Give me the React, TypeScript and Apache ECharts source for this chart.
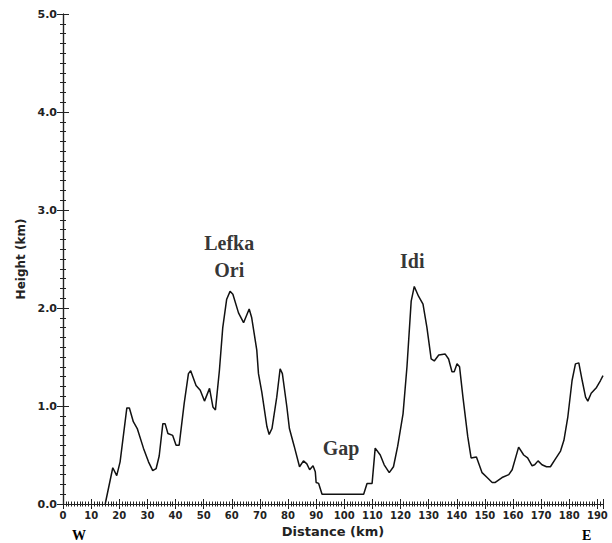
import React, { useEffect, useRef } from "react";
import * as echarts from "echarts";

const distanceKm = [
  15.0, 17.7, 19.1, 20.3, 22.7, 23.6, 25.0, 26.4, 28.6, 30.4, 31.9, 33.1, 34.2, 35.5, 36.3, 37.3,
  39.0, 40.2, 41.3, 43.1, 44.6, 45.4, 47.3, 48.8, 50.3, 52.1, 53.3, 54.2, 55.6, 56.8, 58.2, 59.4,
  60.4, 62.4, 64.2, 66.2, 67.1, 68.9, 69.5, 70.7, 72.5, 73.3, 74.3, 76.0, 77.2, 78.0, 79.6, 80.5,
  82.2, 84.1, 85.5, 86.7, 87.7, 88.9, 89.7, 90.0, 90.9, 92.1, 106.9, 108.1, 109.9, 111.0, 112.8,
  114.2, 116.0, 117.5, 119.0, 120.9, 122.3, 123.8, 124.9, 126.4, 128.0, 129.4, 130.9, 132.0, 133.6,
  135.9, 137.1, 138.3, 139.1, 140.1, 141.0, 142.2, 143.9, 145.1, 147.0, 149.0, 150.8, 152.6, 153.7,
  156.1, 158.5, 159.7, 162.0, 163.8, 165.2, 166.8, 167.7, 168.9, 170.3, 171.9, 173.3, 175.1, 176.9,
  178.1, 179.5, 181.0, 182.2, 183.4, 184.6, 185.8, 186.6, 187.8, 189.7, 191.1, 192.0,
];

const heightKm = [
  0.0, 0.37, 0.29, 0.43, 0.98, 0.98, 0.84, 0.77, 0.57, 0.43, 0.34, 0.36, 0.49, 0.82, 0.82, 0.72,
  0.70, 0.60, 0.60, 1.03, 1.33, 1.36, 1.21, 1.16, 1.05, 1.18, 0.99, 0.96, 1.36, 1.80, 2.09, 2.17,
  2.14, 1.95, 1.85, 1.99, 1.90, 1.57, 1.33, 1.14, 0.79, 0.71, 0.77, 1.09, 1.38, 1.33, 0.99, 0.77,
  0.59, 0.38, 0.44, 0.41, 0.35, 0.39, 0.33, 0.22, 0.21, 0.10, 0.10, 0.21, 0.21, 0.57, 0.50,
  0.40, 0.32, 0.38, 0.59, 0.92, 1.40, 2.07, 2.22, 2.12, 2.04, 1.80, 1.48, 1.46, 1.52,
  1.53, 1.48, 1.35, 1.35, 1.43, 1.40, 1.09, 0.69, 0.47, 0.48, 0.32, 0.27, 0.22, 0.22,
  0.27, 0.30, 0.35, 0.58, 0.50, 0.47, 0.39, 0.40, 0.44, 0.40, 0.38, 0.38, 0.46, 0.54,
  0.65, 0.89, 1.26, 1.43, 1.44, 1.26, 1.09, 1.05, 1.13, 1.19, 1.26, 1.31,
];

const annotationNames = ["Lefka\nOri", "Gap", "Idi"];
const annotationX = [59.1, 98.9, 124.2];
const annotationY = [2.53, 0.57, 2.48];

const xTitle = "Distance (km)";
const yTitle = "Height (km)";
const westLabel = "W";
const eastLabel = "E";

const X_MIN = 0;
const X_MAX = 192;
const Y_MIN = 0;
const Y_MAX = 5;

export default function App() {
  const ref = useRef<HTMLDivElement>(null);

  useEffect(() => {
    if (!ref.current) return;
    const chart = echarts.init(ref.current, undefined, { renderer: "svg" });
    const lineData = distanceKm.map((d, i) => [d, heightKm[i]]);
    const annData = annotationNames.map((n, i) => ({ name: n, value: [annotationX[i], annotationY[i]] }));

    const tickFont = { fontFamily: "DejaVu Sans", fontWeight: "bold" as const, color: "#222" };
    const axisLine = { show: true, lineStyle: { color: "#222", width: 1.2 } };

    const baseX = {
      type: "value" as const,
      min: X_MIN,
      max: X_MAX,
      interval: 10,
      axisLine,
      splitLine: { show: false },
      axisTick: { show: true, inside: true, length: 5, lineStyle: { color: "#222", width: 1 } },
      minorTick: { show: true, splitNumber: 10, length: 2.5, lineStyle: { color: "#222", width: 1 } },
    };
    const baseY = {
      type: "value" as const,
      min: Y_MIN,
      max: Y_MAX,
      interval: 1,
      axisLine,
      splitLine: { show: false },
      axisTick: { show: true, inside: true, length: 6, lineStyle: { color: "#222", width: 1 } },
      minorTick: { show: true, splitNumber: 10, length: 3, lineStyle: { color: "#222", width: 1 } },
    };

    chart.setOption({
      animation: false,
      backgroundColor: "#ffffff",
      grid: { left: 63, top: 14, right: 9, bottom: 35, containLabel: false },
      xAxis: [
        {
          ...baseX,
          position: "bottom",
          name: xTitle,
          nameLocation: "middle",
          nameGap: 21,
          nameTextStyle: { fontFamily: "DejaVu Sans", fontWeight: "bold", fontSize: 13, color: "#222" },
          axisLabel: {
            ...tickFont,
            fontSize: 10,
            margin: 6,
            showMaxLabel: false,
            formatter: (v: number) => (v % 10 === 0 ? String(v) : ""),
          },
        },
        { ...baseX, position: "top", axisLabel: { show: false } },
      ],
      yAxis: [
        {
          ...baseY,
          position: "left",
          name: yTitle,
          nameLocation: "middle",
          nameRotate: 90,
          nameGap: 34,
          nameTextStyle: { fontFamily: "DejaVu Sans", fontWeight: "bold", fontSize: 12, color: "#222" },
          axisLabel: { ...tickFont, fontSize: 11, margin: 6, formatter: (v: number) => v.toFixed(1) },
        },
        { ...baseY, position: "right", axisLabel: { show: false } },
      ],
      graphic: [
        {
          type: "text",
          left: 72,
          top: 528,
          style: { text: westLabel, font: "bold 14px 'Liberation Serif'", fill: "#000" },
        },
        {
          type: "text",
          left: 582,
          top: 528,
          style: { text: eastLabel, font: "bold 14px 'Liberation Serif'", fill: "#000" },
        },
      ],
      series: [
        {
          type: "line",
          data: lineData,
          showSymbol: false,
          symbol: "none",
          lineStyle: { color: "#111", width: 1.5 },
          xAxisIndex: 0,
          yAxisIndex: 0,
          silent: true,
        },
        {
          type: "scatter",
          data: annData,
          symbolSize: 0,
          xAxisIndex: 0,
          yAxisIndex: 0,
          silent: true,
          label: {
            show: true,
            position: "inside",
            formatter: (p: any) => p.name,
            fontFamily: "Liberation Serif",
            fontWeight: "bold",
            fontSize: 20,
            lineHeight: 27,
            color: "#000",
            align: "center",
            verticalAlign: "middle",
          },
        },
      ],
    });
    return () => chart.dispose();
  }, []);

  return (
    <div
      ref={ref}
      style={{ position: "fixed", left: 0, top: 0, width: 612, height: 543, background: "#fff" }}
    />
  );
}
